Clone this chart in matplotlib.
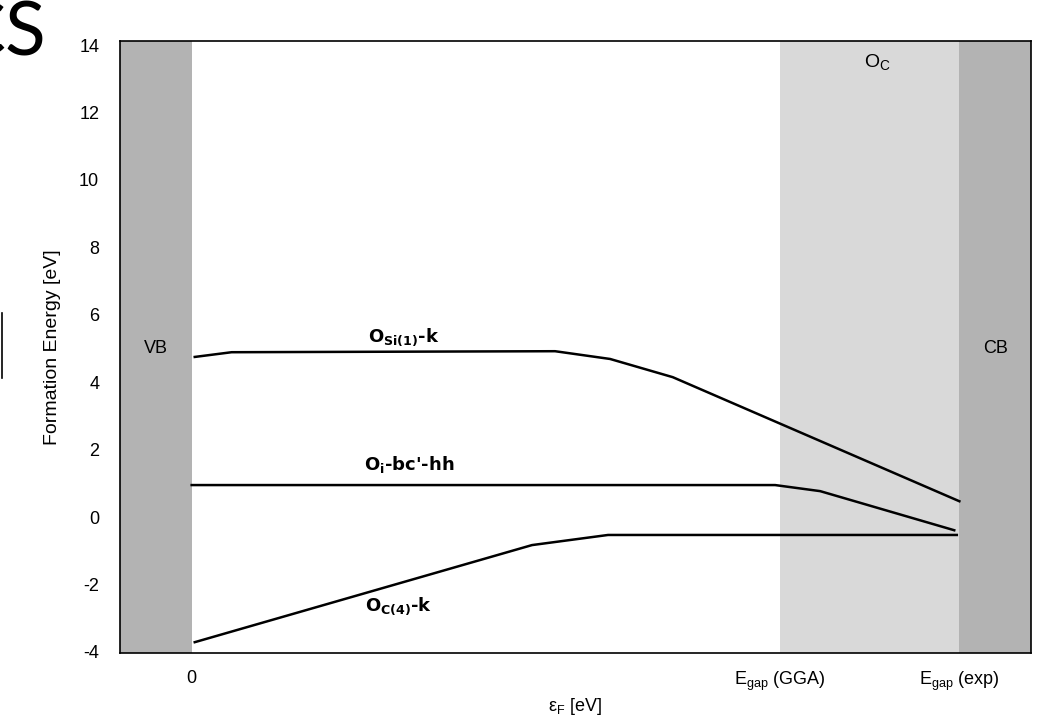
#!/usr/bin/env python3
"""Formation energy vs Fermi level for O defects in SiC."""

import matplotlib
matplotlib.use("Agg")
import matplotlib.pyplot as plt
from matplotlib.lines import Line2D

plt.rcParams["font.family"] = ["Liberation Sans", "DejaVu Sans"]
plt.rcParams["mathtext.fontset"] = "custom"
plt.rcParams["mathtext.rm"] = "Liberation Sans"
plt.rcParams["mathtext.it"] = "Liberation Sans:italic"
plt.rcParams["mathtext.bf"] = "DejaVu Sans:bold"
plt.rcParams["axes.unicode_minus"] = False

# band edges [eV]
gap_gga = 2.3
gap_exp = 3.0

# defect lines (Fermi level [eV], formation energy [eV])
osi_x = [0.012, 0.156, 1.42, 1.635, 1.88, 3.0]
osi_y = [4.75, 4.89, 4.92, 4.69, 4.15, 0.47]

oi_x = [0.0, 2.28, 2.456, 2.98]
oi_y = [0.95, 0.95, 0.77, -0.39]

oc_x = [0.012, 1.33, 1.627, 2.99]
oc_y = [-3.71, -0.83, -0.53, -0.53]

yticks = [-4, -2, 0, 2, 4, 6, 8, 10, 12, 14]
xticks = [0, gap_gga, gap_exp]
xticklabels = ["0", r"E$_\mathrm{gap}$ (GGA)", r"E$_\mathrm{gap}$ (exp)"]

xmin, xmax = -0.28, 3.28
ymin, ymax = -4.03, 14.12

fig = plt.figure(figsize=(10.64, 7.22), dpi=100)
ax = fig.add_axes([0.1128, 0.0956, 0.8562, 0.8476])

# band regions
ax.axvspan(xmin, 0, color="#b3b3b3", lw=0, zorder=0)
ax.axvspan(gap_gga, gap_exp, color="#d9d9d9", lw=0, zorder=0)
ax.axvspan(gap_exp, xmax, color="#b3b3b3", lw=0, zorder=0)

for xs, ys in [(osi_x, osi_y), (oi_x, oi_y), (oc_x, oc_y)]:
    ax.plot(xs, ys, color="black", lw=1.8, zorder=3)

lab = dict(family="DejaVu Sans", weight="bold", fontsize=13, ha="center", va="center")
ax.text(0.83, 5.35, r"$\mathbf{O}_\mathbf{Si(1)}$-k", **lab)
ax.text(0.85, 1.55, r"O$_\mathbf{i}$-bc'-hh", **lab)
ax.text(0.81, -2.65, r"$\mathbf{O}_\mathbf{C(4)}$-k", **lab)

ax.text(-0.14, 5.0, "VB", fontsize=13, ha="center", va="center")
ax.text(3.14, 5.0, "CB", fontsize=13, ha="center", va="center")
ax.text(2.68, 13.5, r"O$_\mathrm{C}$", fontsize=14, ha="center", va="center")

ax.set_xlim(xmin, xmax)
ax.set_ylim(ymin, ymax)
ax.set_yticks(yticks)
ax.set_xticks(xticks)
ax.set_xticklabels(xticklabels)
ax.tick_params(axis="both", length=0, labelsize=13)
ax.tick_params(axis="y", pad=15)
ax.tick_params(axis="x", pad=12)
for s in ax.spines.values():
    s.set_linewidth(1.2)

ax.set_xlabel(r"ε$_\mathrm{F}$ [eV]", fontsize=13, labelpad=2)
ax.set_ylabel("Formation Energy [eV]", fontsize=14, labelpad=13)

# cropped slide remnants
fig.text(0.043, 0.953, "CS", family="Lato", style="normal", weight="normal",
         fontsize=54, ha="right", va="center")
fig.add_artist(Line2D([0.002, 0.002], [0.477, 0.567], color="black", lw=1.2,
                      transform=fig.transFigure))

fig.savefig("out.png", dpi=100)
